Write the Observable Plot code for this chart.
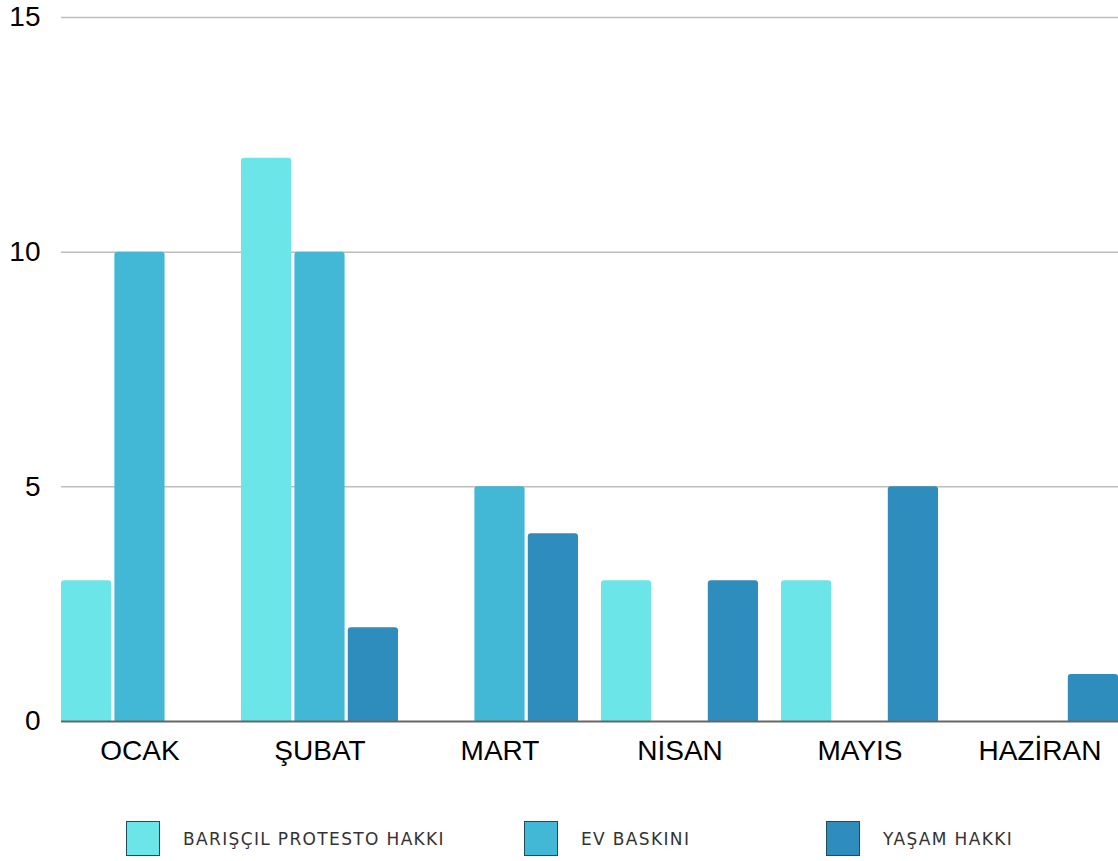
<!DOCTYPE html>
<html>
<head>
<meta charset="utf-8">
<script src="https://cdn.jsdelivr.net/npm/d3@7"></script>
<script src="https://cdn.jsdelivr.net/npm/@observablehq/plot@0.6"></script>
<style>
  html, body { margin: 0; padding: 0; background: #fff; }
  #wrap { position: relative; width: 1118px; height: 861px; overflow: hidden; }
  #legend { position: absolute; left: 0; top: 0; width: 1118px; height: 861px; pointer-events: none; }
  .item { position: absolute; top: 821px; display: flex; align-items: center; }
  .sw { width: 34px; height: 35px; box-sizing: border-box; border: 1.5px solid #1f4d5e; }
  .lab { margin-left: 23px; font-family: "DejaVu Sans", sans-serif; font-size: 17px; color: #333; letter-spacing: 1.35px; }
</style>
</head>
<body>
<div id="wrap"><div id="chart"></div><div id="legend"></div></div>
<script>
const months = ["OCAK", "ŞUBAT", "MART", "NİSAN", "MAYIS", "HAZİRAN"];
const seriesNames = ["BARIŞÇIL PROTESTO HAKKI", "EV BASKINI", "YAŞAM HAKKI"];
const colors = ["#6be5e8", "#42b8d6", "#2e8dbc"];
const protesto = [3, 12, 0, 3, 3, 0];
const evBaskini = [10, 10, 5, 0, 0, 0];
const yasam = [0, 2, 4, 3, 5, 1];
const yTicks = [0, 5, 10, 15];
const legendLeft = [126, 524, 826];

const W = 1118, ML = 61, MR = 0;
const groupPad = 0.128, barPad = 0.06;
const bandW = (W - ML - MR) / (months.length - groupPad) * (1 - groupPad);
const subStep = bandW / (seriesNames.length - barPad);

const seriesValues = [protesto, evBaskini, yasam];
const seriesMarks = seriesNames.map((s, k) => {
  const rows = months.map((m, i) => ({ month: m, series: s, value: seriesValues[k][i] }))
    .filter(d => d.value > 0);
  return Plot.barY(rows, {
    x: "month", y1: -0.2, y2: "value", fill: "series", rx: 3, clip: true,
    insetLeft: k * subStep,
    insetRight: (seriesNames.length - 1 - k) * subStep
  });
});

const chart = Plot.plot({
  width: W,
  height: 800,
  marginLeft: ML,
  marginRight: MR,
  marginTop: 17,
  marginBottom: 79,
  x: { domain: months, paddingInner: groupPad, paddingOuter: 0, round: false, label: null },
  y: { domain: [0, 15], label: null },
  color: { domain: seriesNames, range: colors },
  style: { fontFamily: "'Liberation Sans', Arial, sans-serif" },
  marks: [
    Plot.ruleY(yTicks.filter(t => t > 0), { stroke: "#bdbdbd", strokeWidth: 1.5 }),
    ...seriesMarks,
    Plot.ruleY([0], { stroke: "#666", strokeWidth: 2 }),
    Plot.axisY(yTicks, {
      tickSize: 0, tickPadding: 21, fontSize: 28, fill: "#000",
      textAnchor: "end", label: null
    }),
    Plot.axisX({
      tickSize: 0, tickPadding: 19, fontSize: 28, fill: "#000", label: null
    })
  ]
});
document.getElementById("chart").appendChild(chart);

const legend = document.getElementById("legend");
seriesNames.forEach((s, k) => {
  const item = document.createElement("div");
  item.className = "item";
  item.style.left = legendLeft[k] + "px";
  const sw = document.createElement("div");
  sw.className = "sw";
  sw.style.background = colors[k];
  const lab = document.createElement("span");
  lab.className = "lab";
  lab.textContent = s;
  item.appendChild(sw);
  item.appendChild(lab);
  legend.appendChild(item);
});
</script>
</body>
</html>
